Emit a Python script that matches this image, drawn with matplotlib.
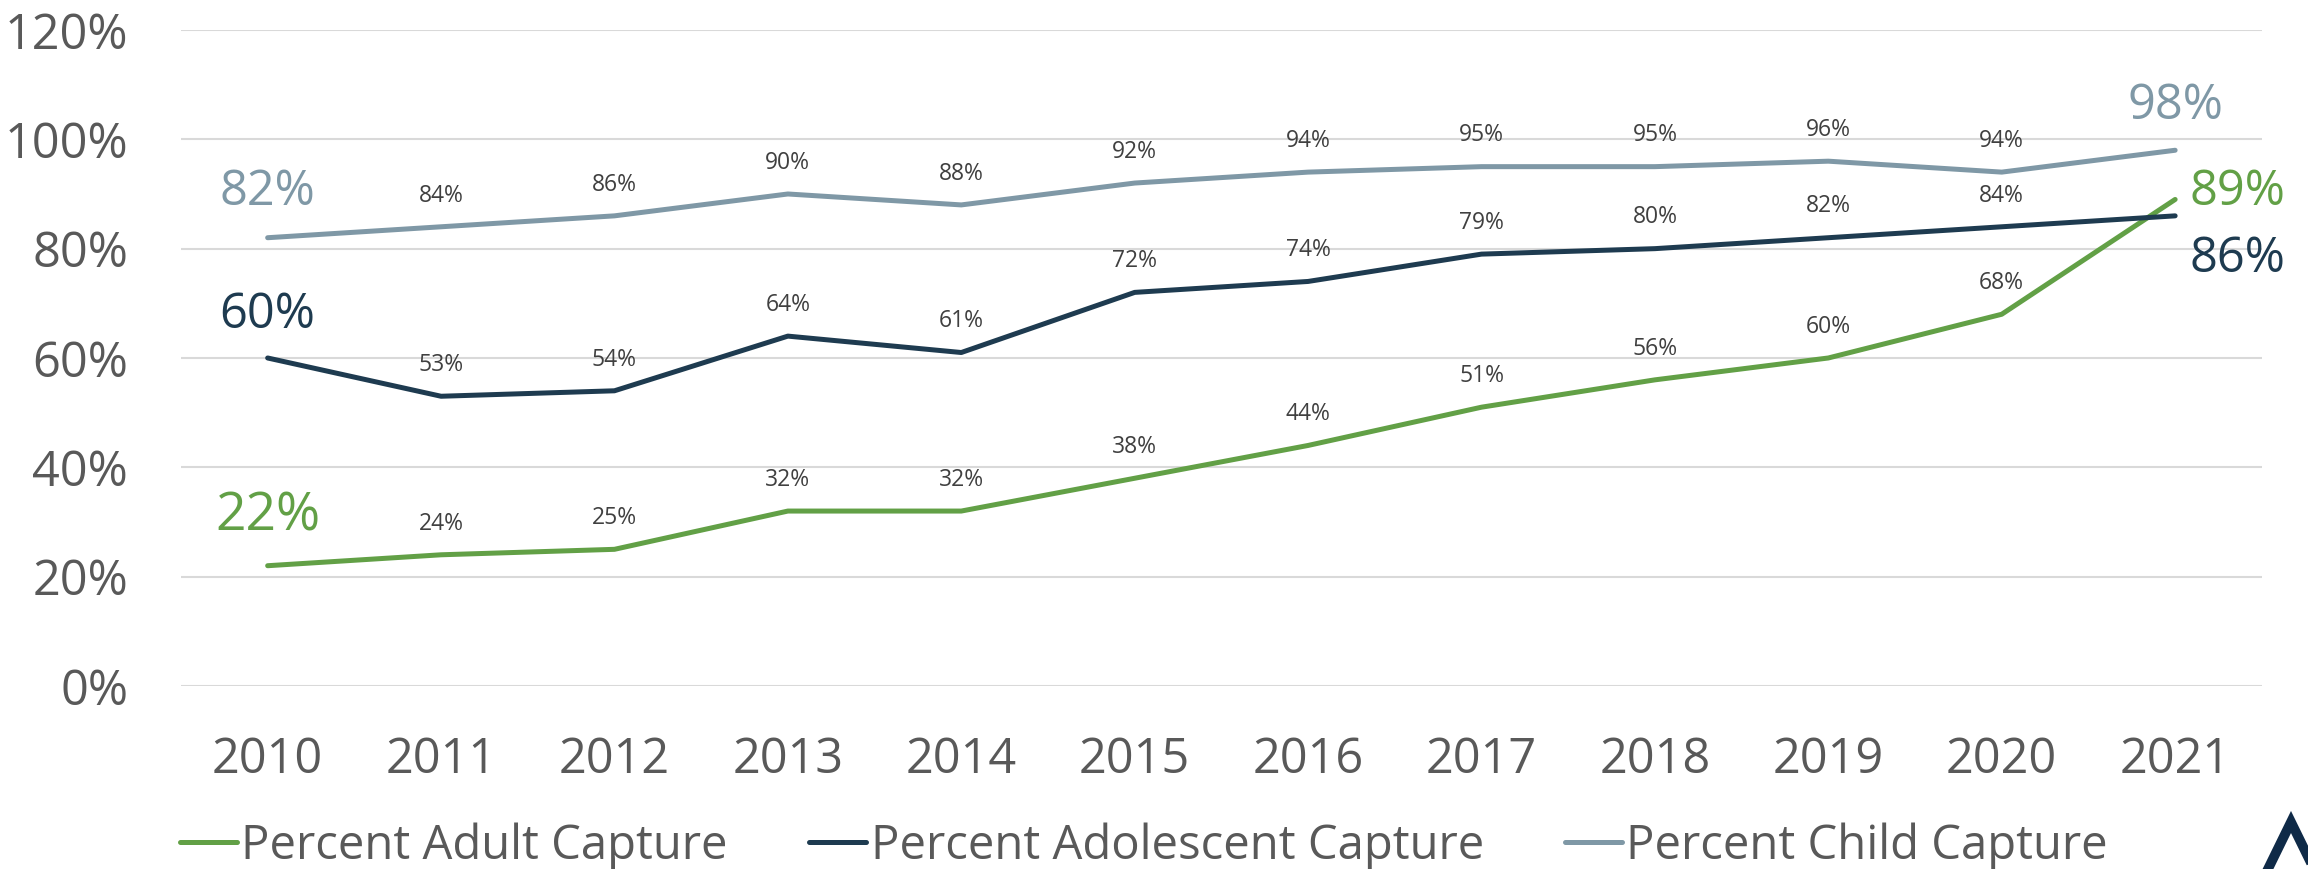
import numpy as np
import matplotlib.pyplot as plt
from matplotlib.lines import Line2D

plt.rcParams['font.family'] = ['Open Sans', 'DejaVu Sans']

# data
years = ['2010', '2011', '2012', '2013', '2014', '2015', '2016', '2017', '2018', '2019', '2020', '2021']
adult = [22, 24, 25, 32, 32, 38, 44, 51, 56, 60, 68, 89]
adolescent = [60, 53, 54, 64, 61, 72, 74, 79, 80, 82, 84, 86]
child = [82, 84, 86, 90, 88, 92, 94, 95, 95, 96, 94, 98]
series_names = ['Percent Adult Capture', 'Percent Adolescent Capture', 'Percent Child Capture']

green = '#62A046'
navy = '#1E3B50'
grey = '#7F98A6'
txt = '#595959'

fig = plt.figure(figsize=(23.08, 8.69), dpi=100)
ax = fig.add_axes([0.0784, 0.2106, 0.9016, 0.7549])

x = np.arange(len(years))
lw = 3.6
ax.plot(x, adult, color=green, lw=lw, solid_capstyle='round', label=series_names[0], zorder=3)
ax.plot(x, adolescent, color=navy, lw=lw, solid_capstyle='round', label=series_names[1], zorder=3)
ax.plot(x, child, color=grey, lw=lw, solid_capstyle='round', label=series_names[2], zorder=3)

ax.set_xlim(-0.5, len(years) - 0.5)
ax.set_ylim(0, 120)
ax.set_yticks(np.arange(0, 121, 20))
ax.set_yticklabels(['%d%%' % v for v in np.arange(0, 121, 20)])
ax.set_xticks(x)
ax.set_xticklabels(years)
ax.grid(axis='y', color='#D9D9D9', lw=1.5)
ax.set_axisbelow(True)
for s in ax.spines.values():
    s.set_visible(False)
ax.tick_params(axis='y', length=0, pad=38, labelsize=35, labelcolor=txt)
ax.tick_params(axis='x', length=0, pad=36, labelsize=35, labelcolor=txt)

# small labels above the middle points
for vals in (adult, adolescent, child):
    for i in range(1, len(vals) - 1):
        ax.annotate('%d%%' % vals[i], (x[i], vals[i]), xytext=(0, 22.5), textcoords='offset points',
                    ha='center', va='center', fontsize=16.5, color='#404040')

# big end labels
ax.annotate('%d%%' % adult[0], (x[0], adult[0]), xytext=(0, 35), textcoords='offset points',
            ha='center', va='center', fontsize=38.5, color=green)
ax.annotate('%d%%' % adolescent[0], (x[0], adolescent[0]), xytext=(0, 31), textcoords='offset points',
            ha='center', va='center', fontsize=35, color=navy)
ax.annotate('%d%%' % child[0], (x[0], child[0]), xytext=(0, 33), textcoords='offset points',
            ha='center', va='center', fontsize=35, color=grey)
ax.annotate('%d%%' % child[-1], (x[-1], child[-1]), xytext=(0, 32), textcoords='offset points',
            ha='center', va='center', fontsize=35, color=grey)
ax.annotate('%d%%' % adult[-1], (x[-1], adult[-1]), xytext=(10, 5), textcoords='offset points',
            ha='left', va='center', fontsize=35, color=green)
ax.annotate('%d%%' % adolescent[-1], (x[-1], adolescent[-1]), xytext=(10, -31), textcoords='offset points',
            ha='left', va='center', fontsize=35, color=navy)

leg = ax.legend(loc='center left', bbox_to_anchor=(0.078, 0.0265), bbox_transform=fig.transFigure,
                ncol=3, frameon=False, fontsize=34, handlelength=1.2, handletextpad=0.1,
                columnspacing=1.72, borderaxespad=0, borderpad=0)
for t in leg.get_texts():
    t.set_color(txt)

# corner logo fragment
fig.add_artist(Line2D([2268 / 2308, 2291 / 2308, 2314 / 2308], [0, 47 / 869, 0],
                      transform=fig.transFigure, color='#0F2A47', lw=7, solid_joinstyle='miter'))

fig.savefig('out.png', dpi=100)
